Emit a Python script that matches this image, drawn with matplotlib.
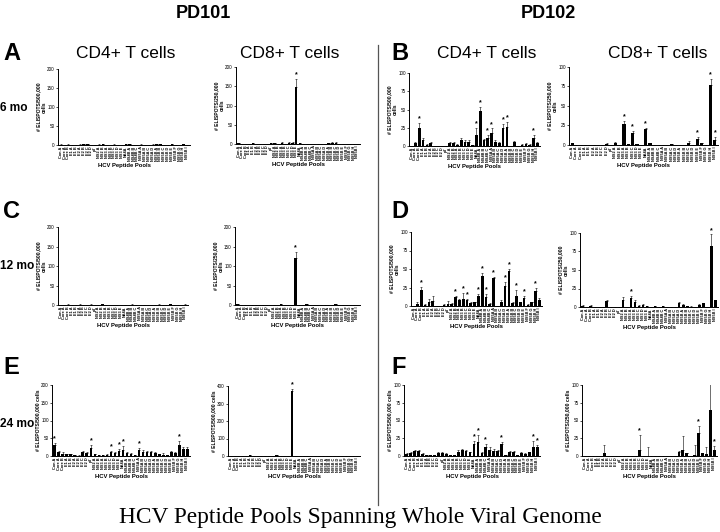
import matplotlib
matplotlib.use('Agg')
import matplotlib.pyplot as plt
from matplotlib.lines import Line2D
import numpy as np

plt.rcParams['font.family'] = ['Liberation Sans', 'DejaVu Sans']

# ── HCV peptide pools (x categories, shared by every panel) ─────────
pools = ["Con A", "Core A", "Core B", "E1 A", "E1 B", "E2 A", "E2 B", "E2 C",
         "E2 D", "p7", "NS2 A", "NS2 B", "NS3 A", "NS3 B", "NS3 C", "NS3 D",
         "NS3 E", "NS4A", "NS4B A", "NS4B B", "NS4B C", "NS5A A", "NS5A B",
         "NS5A C", "NS5A D", "NS5B A", "NS5B B", "NS5B C", "NS5B D", "NS5B E",
         "NS5B F", "NS5B G", "NS5B H", "NS5B I"]

# ── PD101 ───────────────────────────────────────────────────────────
a_cd4 = [1, 0, 1, 1, 0, 1, 2, 2, 1, 0, 1, 2, 0, 1, 1, 1, 1, 2, 2, 1, 1, 1, 0, 1, 1, 2, 2, 1, 1, 2, 1, 1, 2, 1]
a_cd4_err = [1, 0, 1, 0, 0, 1, 1, 1, 0, 0, 1, 1, 0, 0, 1, 0, 0, 1, 1, 0, 0, 1, 0, 0, 1, 1, 1, 0, 0, 1, 0, 0, 1, 0]
a_cd4_sig = []
a_cd8 = [2, 0, 1, 1, 2, 1, 0, 0, 1, 2, 2, 1, 3, 1, 3, 3, 148, 2, 1, 1, 0, 1, 0, 0, 1, 2, 3, 3, 1, 1, 1, 0, 1, 1]
a_cd8_err = [1, 0, 0, 0, 1, 0, 0, 0, 0, 1, 1, 0, 1, 0, 1, 1, 22, 1, 0, 0, 0, 0, 0, 0, 0, 1, 1, 1, 0, 0, 0, 0, 0, 0]
a_cd8_sig = [16]

c_cd4 = [1, 0, 1, 0, 1, 1, 1, 0, 1, 0, 1, 2, 1, 0, 1, 0, 0, 1, 0, 1, 0, 1, 0, 1, 0, 0, 1, 0, 1, 2, 1, 0, 0, 1]
c_cd4_err = [0, 0, 1, 0, 0, 1, 0, 0, 1, 0, 0, 1, 0, 0, 0, 0, 0, 0, 0, 1, 0, 0, 0, 0, 0, 0, 1, 0, 0, 1, 0, 0, 0, 1]
c_cd4_sig = []
c_cd8 = [2, 1, 0, 0, 0, 0, 0, 0, 0, 0, 0, 0, 2, 1, 1, 0, 120, 0, 0, 2, 0, 0, 1, 0, 1, 0, 1, 2, 0, 1, 1, 0, 0, 1]
c_cd8_err = [1, 0, 0, 0, 0, 0, 0, 0, 0, 0, 0, 0, 1, 0, 0, 0, 15, 0, 0, 1, 0, 0, 0, 0, 0, 0, 0, 1, 0, 0, 0, 0, 0, 0]
c_cd8_sig = [16]

e_cd4 = [30, 10, 7, 5, 5, 2, 1, 10, 8, 22, 5, 3, 2, 4, 10, 8, 15, 17, 8, 6, 2, 17, 12, 10, 12, 8, 5, 4, 2, 10, 8, 32, 20, 20]
e_cd4_err = [8, 4, 3, 2, 2, 1, 1, 3, 3, 8, 2, 1, 1, 2, 5, 3, 6, 10, 3, 2, 1, 6, 4, 3, 3, 3, 2, 4, 1, 3, 3, 10, 5, 5]
e_cd4_sig = [0, 9, 14, 16, 17, 21, 31]
e_cd8 = [1, 0, 1, 0, 0, 3, 0, 0, 0, 0, 0, 0, 3, 1, 1, 1, 370, 0, 0, 0, 0, 0, 1, 0, 0, 0, 0, 0, 0, 0, 0, 0, 0, 0]
e_cd8_err = [0, 0, 0, 0, 0, 2, 0, 0, 0, 0, 0, 0, 2, 0, 0, 0, 15, 0, 0, 0, 0, 0, 0, 0, 0, 0, 0, 0, 0, 0, 0, 0, 0, 0]
e_cd8_sig = [16]

# ── PD102 ───────────────────────────────────────────────────────────
b_cd4 = [0, 4, 24, 8, 2, 4, 0.5, 0.5, 0.5, 0, 4, 4, 2, 8, 6, 6, 1, 15, 48, 8, 11, 18, 6, 4, 24, 26, 0, 6, 0, 2, 3, 2, 11, 4]
b_cd4_err = [0, 2, 8, 3, 1, 2, 0, 0, 0, 0, 1, 2, 1, 3, 2, 2, 1, 10, 6, 2, 4, 6, 2, 1, 6, 7, 0, 1, 0, 1, 1, 1, 4, 2]
b_cd4_sig = [2, 17, 18, 20, 21, 24, 25, 32]
b_cd8 = [2, 0, 0, 0, 0, 0, 0, 0, 1, 0, 3, 0, 27, 1, 15, 1, 0, 20, 2, 0, 0, 0, 0, 1, 0, 0, 0, 3, 0, 8, 2, 0, 77, 7]
b_cd8_err = [1, 0, 0, 0, 0, 0, 0, 0, 1, 0, 1, 0, 4, 0, 3, 0, 0, 2, 0, 0, 0, 0, 0, 0, 0, 0, 0, 2, 0, 2, 0, 0, 8, 3]
b_cd8_sig = [12, 14, 17, 29, 32, 33]

d_cd4 = [0, 3, 22, 2, 6, 7, 0, 0, 2, 3, 3, 12, 8, 10, 8, 4, 5, 13, 40, 12, 3, 38, 0, 5, 27, 47, 4, 13, 5, 11, 2, 5, 20, 8]
d_cd4_err = [0, 3, 4, 1, 3, 6, 0, 0, 1, 4, 1, 2, 1, 8, 2, 1, 1, 3, 4, 4, 1, 1, 0, 3, 5, 3, 2, 9, 1, 2, 1, 1, 4, 3]
d_cd4_sig = [2, 11, 13, 14, 17, 18, 19, 21, 24, 25, 27, 29, 32]
d_cd8 = [1, 0, 2, 0, 0, 0, 8, 0, 0, 0, 9, 0, 12, 7, 2, 3, 1, 0.5, 1, 0, 1, 0, 0, 0, 5, 3, 1, 0.5, 0, 3, 5, 0, 83, 9]
d_cd8_err = [2, 0, 1, 0, 0, 0, 1, 0, 0, 0, 4, 0, 3, 3, 1, 1, 0, 0, 1, 0, 0, 0, 0, 0, 2, 1, 0, 1, 0, 1, 1, 0, 15, 0]
d_cd8_sig = [12, 32]

f_cd4 = [3, 4, 7, 7, 3, 1, 1, 1, 4, 4, 3, 2, 2, 6, 8, 7, 5, 17, 20, 4, 12, 9, 7, 7, 17, 1, 6, 6, 1, 4, 3, 5, 13, 12]
f_cd4_err = [1, 1, 1, 1, 1, 0, 0, 0, 2, 1, 1, 0, 0, 3, 2, 2, 1, 4, 9, 1, 5, 4, 3, 1, 3, 0, 1, 1, 0, 1, 1, 1, 8, 3]
f_cd4_sig = [17, 18, 20, 24, 32, 33]
f_cd8 = [0, 0, 0, 0, 0, 4, 0, 0, 0, 0, 0, 0, 0, 0, 9, 0, 0, 0, 0, 0, 0, 0, 0, 0, 5, 9, 4, 0, 1, 32, 4, 3, 65, 9]
f_cd8_err = [0, 0, 0, 0, 0, 11, 0, 0, 0, 0, 0, 0, 0, 0, 21, 0, 12, 0, 0, 0, 0, 0, 0, 0, 2, 19, 0, 0, 14, 10, 0, 9, 38, 5]
f_cd8_sig = [14, 29, 33]

W, H = 720, 532
fig = plt.figure(figsize=(7.2, 5.32), dpi=100, facecolor='white')


def _box(x0, y0, x1, y1):
    # pixel box (top-left origin) -> figure fraction rect
    return [x0 / W, 1 - y1 / H, (x1 - x0) / W, (y1 - y0) / H]


def draw_panel(box, vals, errs, sig, ymax, step, ylabel):
    ax = fig.add_axes(_box(*box))
    x = np.arange(len(pools))
    v = np.array(vals, dtype=float)
    e = np.array(errs, dtype=float)
    ax.bar(x, v, width=0.7, color='black', zorder=3)
    ax.errorbar(x, v, yerr=[np.zeros_like(e), e], fmt='none', ecolor='black',
                elinewidth=0.4, capsize=0.8, capthick=0.4, zorder=2)
    for i in sig:
        ax.text(i, v[i] + e[i] + ymax * 0.01, '*', ha='center', va='bottom',
                fontsize=5, fontweight='bold')
    ax.set_xlim(-0.7, len(pools) - 0.3)
    ax.set_ylim(0, ymax)
    ax.set_yticks(np.arange(0, ymax + 1, step))
    ax.set_xticks(x)
    ax.set_xticklabels(pools, rotation=90, fontsize=2.8, fontweight='bold')
    ax.tick_params(axis='x', length=0, pad=1)
    ax.tick_params(axis='y', length=1.5, width=0.5, labelsize=3.3, pad=0.8)
    for s in ('top', 'right'):
        ax.spines[s].set_visible(False)
    for s in ('left', 'bottom'):
        ax.spines[s].set_linewidth(0.7)
    ax.set_ylabel(ylabel, fontsize=3.6, fontweight='bold', labelpad=0.5,
                  linespacing=1.1)
    ax.set_xlabel('HCV Peptide Pools', fontsize=4.2, fontweight='bold', labelpad=1.5)
    return ax


lab4 = '# ELISPOTS/500,000\ncells'
lab8 = '# ELISPOTS/250,000\ncells'
lab4_1 = '# ELISPOTS/500,000 cells'
lab8_1 = '# ELISPOTS/250,000 cells'

draw_panel((58, 69, 190, 145), a_cd4, a_cd4_err, a_cd4_sig, 200, 50, lab4)
draw_panel((236, 67, 360, 144), a_cd8, a_cd8_err, a_cd8_sig, 200, 50, lab8)
draw_panel((409, 73, 540, 146), b_cd4, b_cd4_err, b_cd4_sig, 100, 25, lab4)
draw_panel((569, 67, 718, 145), b_cd8, b_cd8_err, b_cd8_sig, 100, 25, lab8)
draw_panel((58, 227, 188, 305), c_cd4, c_cd4_err, c_cd4_sig, 200, 50, lab4)
draw_panel((235, 227, 360, 305), c_cd8, c_cd8_err, c_cd8_sig, 200, 50, lab8)
draw_panel((411, 232, 542, 306), d_cd4, d_cd4_err, d_cd4_sig, 100, 25, lab4)
draw_panel((580, 233, 718, 307), d_cd8, d_cd8_err, d_cd8_sig, 100, 25, lab8)
draw_panel((52, 385, 190, 456), e_cd4, e_cd4_err, e_cd4_sig, 200, 50, lab4_1)
draw_panel((228, 386, 360, 456), e_cd8, e_cd8_err, e_cd8_sig, 400, 100, lab4_1)
draw_panel((404, 385, 540, 456), f_cd4, f_cd4_err, f_cd4_sig, 100, 25, lab4_1)
draw_panel((582, 385, 717, 456), f_cd8, f_cd8_err, f_cd8_sig, 100, 25, lab8_1)

# ── headers, letters, time points ───────────────────────────────────
def ftext(px, py, s, **kw):
    fig.text(px / W, 1 - py / H, s, **kw)


ftext(203, 13, 'PD101', ha='center', va='center', fontsize=13, fontweight='bold')
ftext(548, 13, 'PD102', ha='center', va='center', fontsize=13, fontweight='bold')

for px, s in [(126, 'CD4+ T cells'), (290, 'CD8+ T cells'),
              (487, 'CD4+ T cells'), (658, 'CD8+ T cells')]:
    ftext(px, 53, s, ha='center', va='center', fontsize=12.5)

for px, py, s in [(3, 54, 'A'), (391, 54, 'B'), (3, 212, 'C'), (391, 212, 'D'),
                  (3, 368, 'E'), (391, 368, 'F')]:
    ftext(px, py, s, ha='left', va='center', fontsize=17, fontweight='bold')

for py, s in [(108, '6 mo'), (266, '12 mo'), (424, '24 mo')]:
    ftext(0, py, s, ha='left', va='center', fontsize=8.6, fontweight='bold')

fig.add_artist(Line2D([378 / W, 378 / W], [1 - 45 / H, 1 - 505 / H],
                      color='#555555', linewidth=0.9))

ftext(360, 518, 'HCV Peptide Pools Spanning Whole Viral Genome', ha='center',
      va='center', fontsize=16.8, family=['Liberation Serif', 'DejaVu Serif'])

fig.savefig('out.png', dpi=100, facecolor='white')
